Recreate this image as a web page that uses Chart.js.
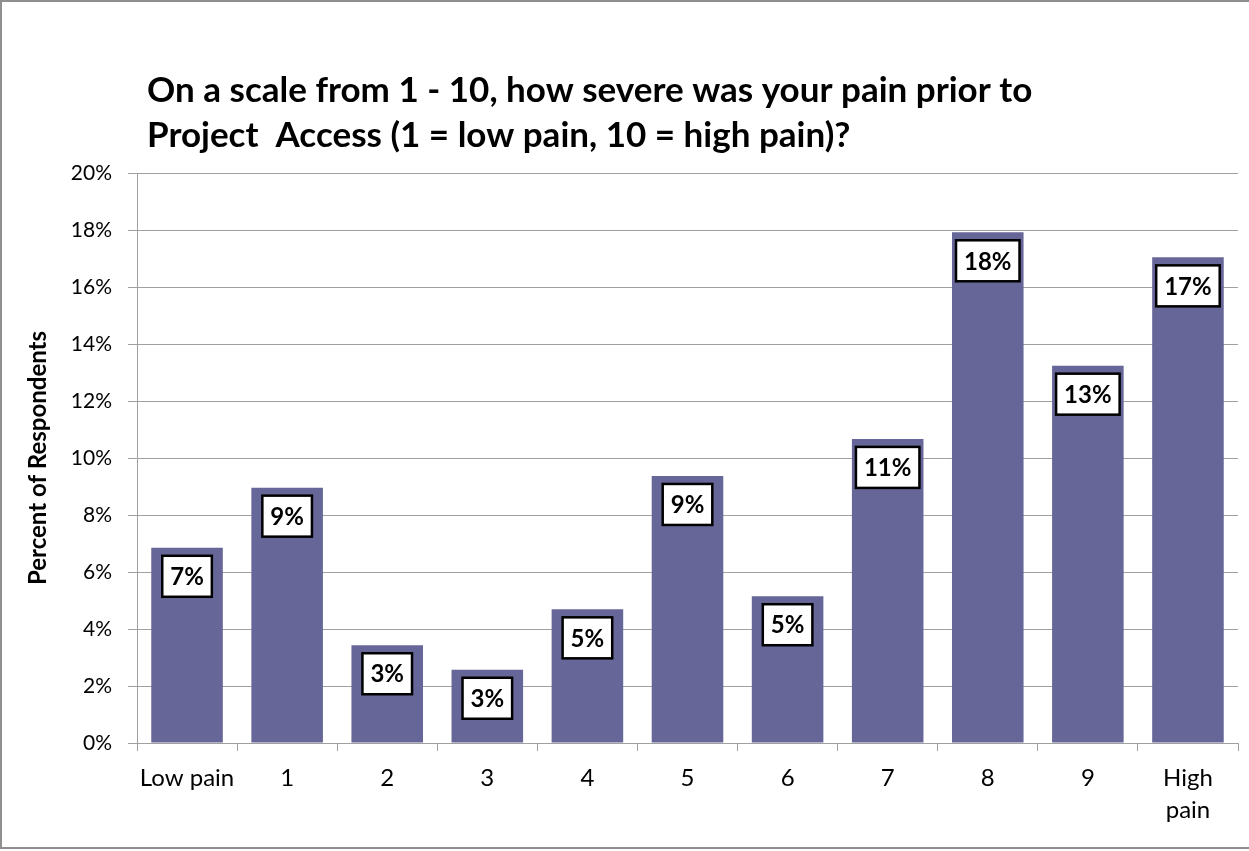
<!DOCTYPE html>
<html>
<head>
<meta charset="utf-8">
<script src="https://cdn.jsdelivr.net/npm/chart.js@4.4.1/dist/chart.umd.min.js"></script>
<style>
  html, body { margin: 0; padding: 0; background: #ffffff; }
  #wrap { width: 1249px; height: 851px; }
</style>
</head>
<body>
<div id="wrap"><canvas id="c" width="1249" height="851"></canvas></div>
<script>
// ---- data ----
const CATEGORIES = ['Low pain', '1', '2', '3', '4', '5', '6', '7', '8', '9', ['High', 'pain']];
const PERCENT_VALUES = [6.85, 8.96, 3.43, 2.57, 4.69, 9.37, 5.15, 10.67, 17.92, 13.24, 17.04];
const Y_TICK_VALUES = [0, 2, 4, 6, 8, 10, 12, 14, 16, 18, 20];
const TITLE_LINES = [
  'On a scale from 1 - 10, how severe was your pain prior to',
  'Project  Access (1 = low pain, 10 = high pain)?'
];
const Y_AXIS_TITLE = 'Percent of Respondents';

// ---- plugins ----
const framePlugin = {
  id: 'frame',
  beforeDraw(chart) {
    const ctx = chart.ctx;
    ctx.save();
    ctx.fillStyle = '#ffffff';
    ctx.fillRect(0, 0, chart.width, chart.height);
    ctx.strokeStyle = '#8f8f8f';
    ctx.lineWidth = 2;
    ctx.strokeRect(1, 1, chart.width + 10, chart.height - 4);
    ctx.restore();
  }
};

const titlePlugin = {
  id: 'bigTitle',
  afterDraw(chart) {
    const ctx = chart.ctx;
    ctx.save();
    ctx.fillStyle = '#000000';
    ctx.font = 'bold 35px Lato';
    ctx.textAlign = 'left';
    ctx.textBaseline = 'alphabetic';
    const baselines = [102, 147];
    TITLE_LINES.forEach((line, i) => ctx.fillText(line, 147, baselines[i]));
    ctx.restore();
  }
};

const valueLabelPlugin = {
  id: 'valueLabels',
  afterDatasetsDraw(chart) {
    const ctx = chart.ctx;
    const meta = chart.getDatasetMeta(0);
    const values = chart.data.datasets[0].data;
    ctx.save();
    ctx.font = 'bold 24px Lato';
    ctx.textAlign = 'center';
    ctx.textBaseline = 'middle';
    meta.data.forEach((bar, i) => {
      const text = Math.round(values[i]) + '%';
      const w = ctx.measureText(text).width + 16;
      const h = 41;
      const top = bar.y + 8;
      const left = bar.x - w / 2;
      ctx.fillStyle = '#ffffff';
      ctx.fillRect(left, top, w, h);
      ctx.strokeStyle = '#000000';
      ctx.lineWidth = 2.5;
      ctx.strokeRect(left, top, w, h);
      ctx.fillStyle = '#000000';
      ctx.fillText(text, bar.x, top + h / 2 + 1);
    });
    ctx.restore();
  }
};

function build() {
  new Chart(document.getElementById('c'), {
    type: 'bar',
    data: {
      labels: CATEGORIES,
      datasets: [{
        data: PERCENT_VALUES,
        backgroundColor: '#666699',
        borderWidth: 0,
        barPercentage: 0.715,
        categoryPercentage: 1.0
      }]
    },
    options: {
      responsive: false,
      animation: false,
      devicePixelRatio: 1,
      layout: { padding: { top: 173, right: 11, bottom: 0, left: 0 } },
      plugins: {
        legend: { display: false },
        title: { display: false },
        tooltip: { enabled: false }
      },
      scales: {
        x: {
          offset: true,
          grid: {
            display: true,
            offset: true,
            drawOnChartArea: false,
            drawTicks: true,
            tickLength: 8,
            color: '#a0a0a0',
            lineWidth: 1
          },
          border: { display: true, color: '#a0a0a0', width: 1 },
          ticks: {
            color: '#000000',
            font: { family: 'Lato', size: 24, lineHeight: 1.33 },
            padding: 11,
            maxRotation: 0,
            autoSkip: false
          },
          afterFit(scale) { scale.height = 108; }
        },
        y: {
          min: 0,
          max: 20,
          afterBuildTicks(scale) { scale.ticks = Y_TICK_VALUES.map(v => ({ value: v })); },
          grid: {
            color: '#a0a0a0',
            lineWidth: 1,
            drawTicks: true,
            tickLength: 9
          },
          border: { display: true, color: '#a0a0a0', width: 1 },
          ticks: {
            color: '#000000',
            font: { family: 'Lato', size: 21 },
            padding: 16,
            callback: (v) => v + '%'
          },
          title: {
            display: true,
            text: Y_AXIS_TITLE,
            color: '#000000',
            font: { family: 'Lato', size: 24, weight: 'bold', lineHeight: 1.2 },
            padding: { top: 24, bottom: 0 }
          },
          afterFit(scale) { scale.width = 137; }
        }
      }
    },
    plugins: [framePlugin, titlePlugin, valueLabelPlugin]
  });
}

if (document.fonts && document.fonts.load) {
  Promise.all([
    document.fonts.load('bold 20px Lato'),
    document.fonts.load('20px Lato')
  ]).then(build, build);
} else {
  build();
}
</script>
</body>
</html>
